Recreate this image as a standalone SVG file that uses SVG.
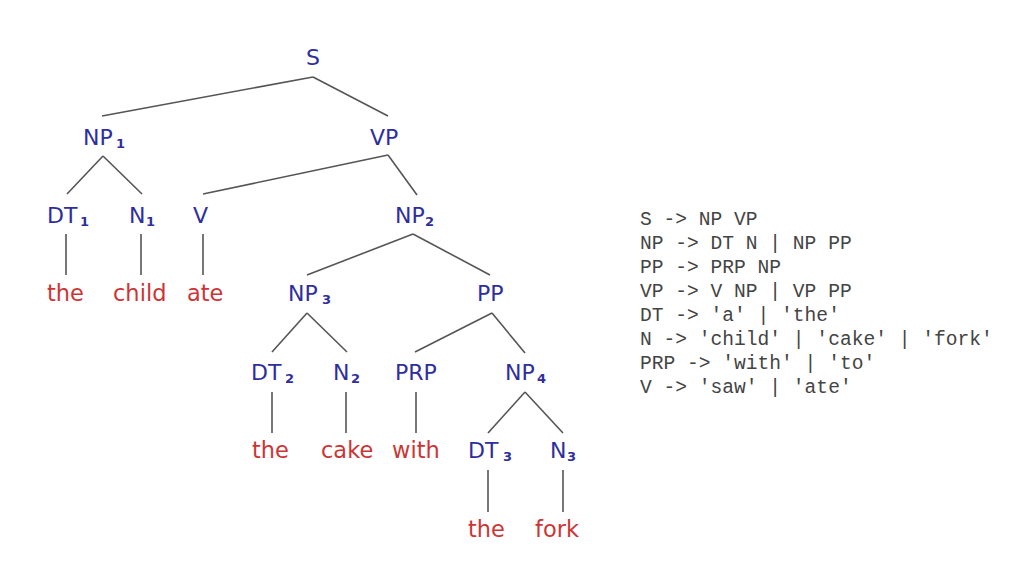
<svg xmlns="http://www.w3.org/2000/svg" width="1024" height="576" viewBox="0 0 1024 576">
<style>
.n{font-family:"DejaVu Sans",Verdana,sans-serif;font-size:22px;fill:#2e2e9c}
.w{font-family:"DejaVu Sans",Verdana,sans-serif;font-size:22.5px;fill:#cc3535}
.s{font-size:13px;font-weight:bold}
.g{font-family:"Liberation Mono","Courier New",monospace;font-size:19.6px;fill:#444}
#edges line{stroke:#555;stroke-width:1.6}
</style>
<rect width="1024" height="576" fill="#fff"/>
<g id="edges">
<line x1="313" y1="77" x2="102" y2="116"/>
<line x1="313" y1="77" x2="388" y2="116"/>
<line x1="103" y1="156" x2="67" y2="194"/>
<line x1="103" y1="156" x2="142" y2="194"/>
<line x1="66" y1="234" x2="66" y2="275"/>
<line x1="141" y1="234" x2="141" y2="275"/>
<line x1="203" y1="234" x2="203" y2="275"/>
<line x1="388" y1="155" x2="203" y2="194"/>
<line x1="388" y1="155" x2="417" y2="195"/>
<line x1="413" y1="234" x2="307" y2="275"/>
<line x1="413" y1="234" x2="490" y2="275"/>
<line x1="307" y1="313" x2="272" y2="352"/>
<line x1="307" y1="313" x2="347" y2="352"/>
<line x1="492" y1="313" x2="415" y2="352"/>
<line x1="492" y1="313" x2="525" y2="353"/>
<line x1="272" y1="392" x2="272" y2="433"/>
<line x1="346" y1="392" x2="346" y2="433"/>
<line x1="416" y1="392" x2="416" y2="433"/>
<line x1="525" y1="392" x2="488" y2="433"/>
<line x1="525" y1="392" x2="563" y2="433"/>
<line x1="488" y1="470" x2="488" y2="512"/>
<line x1="563" y1="470" x2="563" y2="512"/>
</g>
<g id="S"><text class="n" x="306" y="65">S</text></g>
<g id="NP1"><text class="n" x="83" y="145">NP<tspan class="s" x="116" y="148">1</tspan></text></g>
<g id="VP"><text class="n" x="370" y="145">VP</text></g>
<g id="DT1"><text class="n" x="47" y="223">DT<tspan class="s" x="80" y="226">1</tspan></text></g>
<g id="N1"><text class="n" x="129" y="223">N<tspan class="s" x="146" y="226">1</tspan></text></g>
<g id="V"><text class="n" x="193" y="223">V</text></g>
<g id="NP2"><text class="n" x="395" y="223">NP<tspan class="s" x="425" y="226">2</tspan></text></g>
<g id="w-the1"><text class="w" x="47" y="301">the</text></g>
<g id="w-child"><text class="w" x="113" y="301">child</text></g>
<g id="w-ate"><text class="w" x="187" y="301">ate</text></g>
<g id="NP3"><text class="n" x="288" y="301">NP<tspan class="s" x="322" y="304">3</tspan></text></g>
<g id="PP"><text class="n" x="477" y="301">PP</text></g>
<g id="DT2"><text class="n" x="251" y="380">DT<tspan class="s" x="285" y="383">2</tspan></text></g>
<g id="N2"><text class="n" x="333" y="380">N<tspan class="s" x="351" y="383">2</tspan></text></g>
<g id="PRP"><text class="n" x="395" y="380">PRP</text></g>
<g id="NP4"><text class="n" x="505" y="380">NP<tspan class="s" x="537" y="383">4</tspan></text></g>
<g id="w-the2"><text class="w" x="252" y="458">the</text></g>
<g id="w-cake"><text class="w" x="321" y="458">cake</text></g>
<g id="w-with"><text class="w" x="392" y="458">with</text></g>
<g id="DT3"><text class="n" x="468" y="458">DT<tspan class="s" x="503" y="461">3</tspan></text></g>
<g id="N3"><text class="n" x="550" y="458">N<tspan class="s" x="567" y="461">3</tspan></text></g>
<g id="w-the3"><text class="w" x="468" y="537">the</text></g>
<g id="w-fork"><text class="w" x="535" y="537">fork</text></g>
<g id="grammar">
<text class="g" x="640" y="225" xml:space="preserve">S -&gt; NP VP</text>
<text class="g" x="640" y="249" xml:space="preserve">NP -&gt; DT N | NP PP</text>
<text class="g" x="640" y="273" xml:space="preserve">PP -&gt; PRP NP</text>
<text class="g" x="640" y="297" xml:space="preserve">VP -&gt; V NP | VP PP</text>
<text class="g" x="640" y="321" xml:space="preserve">DT -&gt; 'a' | 'the'</text>
<text class="g" x="640" y="345" xml:space="preserve">N -&gt; 'child' | 'cake' | 'fork'</text>
<text class="g" x="640" y="369" xml:space="preserve">PRP -&gt; 'with' | 'to'</text>
<text class="g" x="640" y="393" xml:space="preserve">V -&gt; 'saw' | 'ate'</text>
</g>
</svg>
